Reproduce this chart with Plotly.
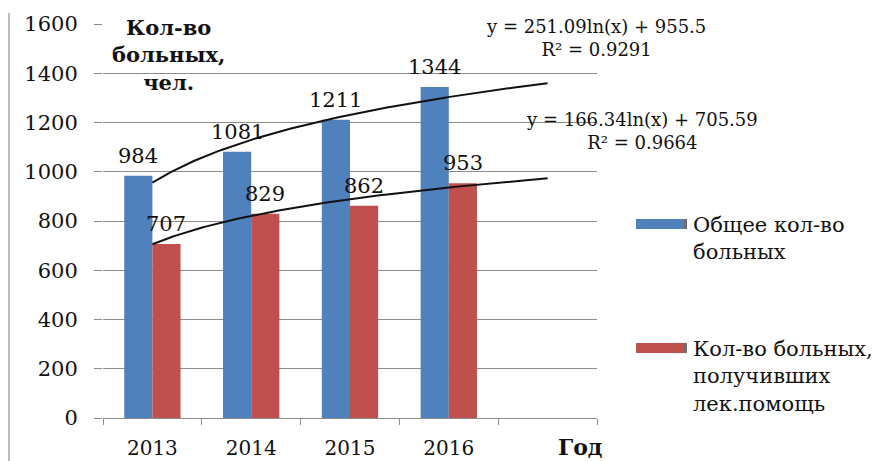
import numpy as np
import plotly.graph_objects as go

# Data
years = ["2013", "2014", "2015", "2016"]
total_patients = [984, 1081, 1211, 1344]
treated_patients = [707, 829, 862, 953]

# Logarithmic trendline coefficients: y = slope*ln(x) + intercept
trend_slope = [251.09, 166.34]
trend_intercept = [955.5, 705.59]
trend_r2 = [0.9291, 0.9664]

series_names = ["Общее кол-во<br>больных", "Кол-во больных,<br>получивших<br>лек.помощь"]
y_ticks = list(range(0, 1601, 200))

BLUE = "#4F81BD"
RED = "#C0504D"
GRID = "#8C8C8C"
SERIF = "DejaVu Serif"

W, H = 886, 461
L, R, T, B = 103, 289, 24, 43
PW, PH = W - L - R, H - T - B


def px(x):
    return (x - L) / PW


def py(y):
    return (H - B - y) / PH


xpos = np.arange(1, len(years) + 1)
bar_w = 0.285

fig = go.Figure()
fig.add_trace(go.Bar(x=xpos, y=total_patients, width=bar_w, offset=-bar_w,
                     marker=dict(color=BLUE, line=dict(width=0)), showlegend=False))
fig.add_trace(go.Bar(x=xpos, y=treated_patients, width=bar_w, offset=0,
                     marker=dict(color=RED, line=dict(width=0)), showlegend=False))

# Trendlines over the years plus one forecast period
xt = np.linspace(1, len(years) + 1, 120)
for a, b in zip(trend_slope, trend_intercept):
    fig.add_trace(go.Scatter(x=xt, y=a * np.log(xt) + b, mode="lines",
                             line=dict(color="#111111", width=2), showlegend=False,
                             hoverinfo="skip"))

annotations = []
# Value labels above bars
for xi, v in zip(xpos, total_patients):
    annotations.append(dict(x=xi - bar_w / 2, y=v, text=str(v), showarrow=False,
                            yanchor="bottom", yshift=6,
                            font=dict(family=SERIF, size=21, color="#111111")))
for xi, v in zip(xpos, treated_patients):
    annotations.append(dict(x=xi + bar_w / 2, y=v, text=str(v), showarrow=False,
                            yanchor="bottom", yshift=6,
                            font=dict(family=SERIF, size=21, color="#111111")))


def fmt(v):
    return f"{v:.2f}".rstrip("0").rstrip(".")


# Trendline equations
eq_pos = [(596, 38), (642, 131)]
for (ex, ey), a, b, r2 in zip(eq_pos, trend_slope, trend_intercept, trend_r2):
    annotations.append(dict(xref="paper", yref="paper", x=px(ex), y=py(ey),
                            text=f"y = {fmt(a)}ln(x) + {fmt(b)}<br>R² = {r2:.4f}",
                            showarrow=False, align="center", xanchor="center",
                            yanchor="middle",
                            font=dict(family=SERIF, size=18, color="#111111")))

# Axis titles
annotations.append(dict(xref="paper", yref="paper", x=px(168), y=py(55),
                        text="<b>Кол-во<br>больных,<br>чел.</b>", showarrow=False,
                        align="center", xanchor="center", yanchor="middle",
                        font=dict(family=SERIF, size=21, color="#111111")))
annotations.append(dict(xref="paper", yref="paper", x=px(580), y=py(447),
                        text="<b>Год</b>", showarrow=False, xanchor="center",
                        yanchor="middle",
                        font=dict(family=SERIF, size=22, color="#111111")))

# Legend drawn as swatches with text
shapes = []
legend_items = [(BLUE, 224), (RED, 348)]
for (col, sy), name in zip(legend_items, series_names):
    shapes.append(dict(type="rect", xref="paper", yref="paper",
                       x0=px(636), x1=px(686), y0=py(sy - 5), y1=py(sy + 5),
                       fillcolor=col, line=dict(width=0)))
    shapes.append(dict(type="rect", xref="paper", yref="paper",
                       x0=px(684), x1=px(687), y0=py(sy - 5), y1=py(sy + 5),
                       fillcolor="#6E6E6E", line=dict(width=0)))
    annotations.append(dict(xref="paper", yref="paper", x=px(691), y=py(sy - 13),
                            text=name, showarrow=False, align="left",
                            xanchor="left", yanchor="top",
                            font=dict(family=SERIF, size=21, color="#111111")))

# Left border line
shapes.append(dict(type="line", xref="paper", yref="paper",
                   x0=px(9), x1=px(9), y0=py(13), y1=py(461),
                   line=dict(color="#A6A6A6", width=1.5)))

fig.update_layout(
    width=W, height=H,
    margin=dict(l=L, r=R, t=T, b=B),
    paper_bgcolor="white", plot_bgcolor="white",
    barmode="overlay",
    showlegend=False,
    annotations=annotations,
    shapes=shapes,
    xaxis=dict(range=[0.5, len(years) + 1.5], tickvals=list(xpos), ticktext=years,
               ticks="", showgrid=False, zeroline=False, automargin=False,
               showline=True, linecolor=GRID, linewidth=1,
               tickfont=dict(family=SERIF, size=20, color="#111111"),
               ticklabelstandoff=12,
               minor=dict(tickvals=[i + 0.5 for i in range(len(years) + 2)],
                          ticks="outside", ticklen=6, tickcolor=GRID,
                          showgrid=False)),
    yaxis=dict(range=[0, 1600], tickvals=y_ticks, showgrid=True, gridcolor=GRID,
               gridwidth=1, zeroline=False, showline=False, automargin=False,
               ticks="outside", ticklen=8, tickcolor=GRID,
               tickfont=dict(family=SERIF, size=21, color="#111111"),
               ticklabelstandoff=12),
)

fig.write_html("out.html")
